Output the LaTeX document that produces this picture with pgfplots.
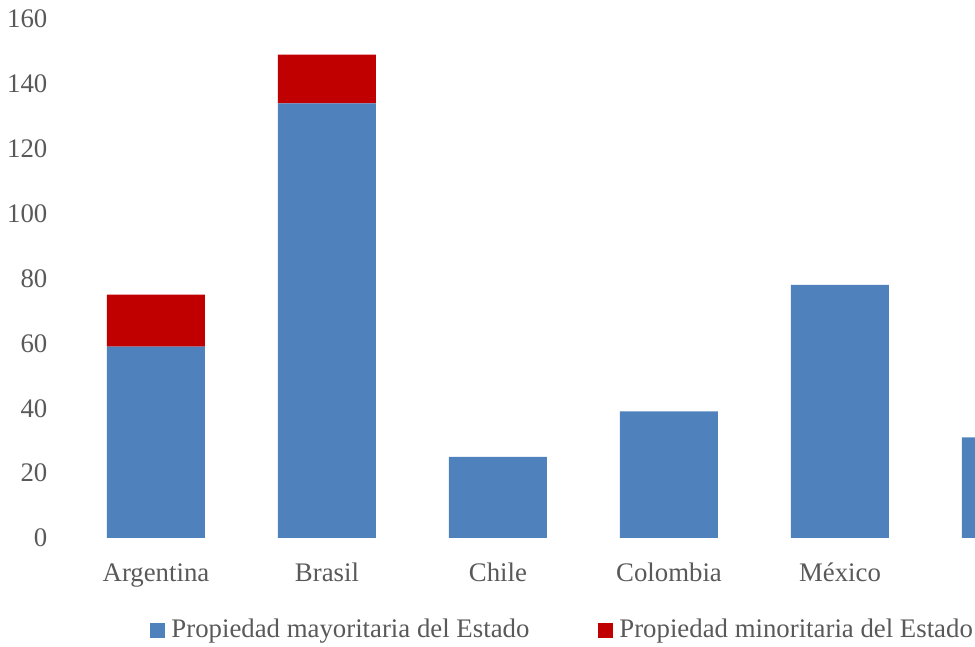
\documentclass[border=0pt]{standalone}
\usepackage{pgfplots}
\pgfplotsset{compat=1.18}
\usepackage{fontspec}
\setmainfont{Liberation Serif}
\definecolor{bblue}{HTML}{4F81BD}
\definecolor{bred}{HTML}{C00000}
\definecolor{tgray}{HTML}{595959}
\newcommand\cf{\fontsize{13.4pt}{16pt}\selectfont}
\begin{document}
\begin{tikzpicture}
\useasboundingbox (0,0) rectangle (487.5pt,323.5pt);
\clip (0,0) rectangle (487.5pt,323.5pt);
\begin{axis}[
  at={(26.7pt,54.5pt)}, anchor=south west,
  scale only axis, width=542.9pt, height=259.5pt,
  xmin=-0.6, xmax=5.75, ymin=0, ymax=160,
  ybar stacked, bar width=49pt,
  axis line style={draw=none}, major tick length=0pt,
  xtick={0,...,4}, xticklabels={Argentina,Brasil,Chile,Colombia,México},
  ytick={0,20,...,160},
  every tick label/.append style={font=\cf, text=tgray},
  /pgf/number format/assume math mode=true,
  xticklabel style={anchor=base, yshift=-22pt},
  yticklabel style={anchor=east, xshift=0.5pt},
  legend columns=2,
  legend style={draw=none, fill=none, inner sep=0pt, font=\cf, text=tgray,
    at={(axis description cs:0.089,-0.1773)}, anchor=west,
    nodes={inner sep=3pt},
    /tikz/every even column/.append style={column sep=31.5pt}},
  legend image code/.code={\fill[#1] (0pt,-3.75pt) rectangle (7.5pt,3.75pt);},
]
\addplot[fill=bblue, draw=none] coordinates {(0,59) (1,134) (2,25) (3,39) (4,78) (5,31)};
\addplot[fill=bred, draw=none] coordinates {(0,16) (1,15) (2,0) (3,0) (4,0) (5,0)};
\legend{Propiedad mayoritaria del Estado, Propiedad minoritaria del Estado}
\end{axis}
\end{tikzpicture}
\end{document}
